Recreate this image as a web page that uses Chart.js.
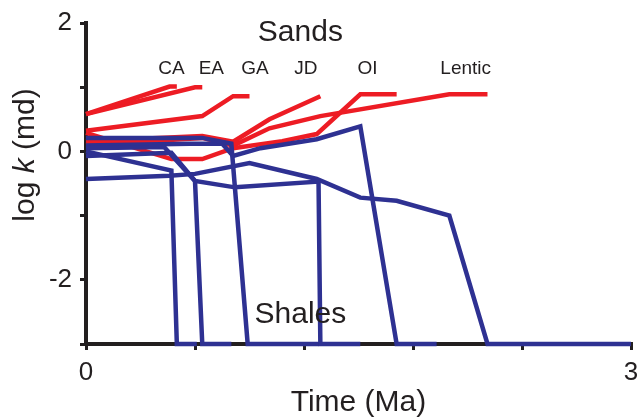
<!DOCTYPE html>
<html>
<head>
<meta charset="utf-8">
<script src="https://cdn.jsdelivr.net/npm/chart.js@4.4.1/dist/chart.umd.min.js"></script>
<style>
    html, body { margin: 0; padding: 0; background: #fff; }
</style>
</head>
<body>
<canvas id="kChart" width="639" height="418"></canvas>
<script>
// Time (Ma) and log k (md) for each sand
const caTime = [0, 0.46, 0.50];
const caLogK = [0.58, 1.01, 1.01];
const eaTime = [0, 0.60, 0.64];
const eaLogK = [0.58, 1.00, 1.00];
const gaTime = [0, 0.64, 0.81, 0.90];
const gaLogK = [0.32, 0.55, 0.86, 0.86];
const jdTime = [0, 0.64, 0.81, 1.01, 1.29];
const jdLogK = [0.16, 0.24, 0.15, 0.50, 0.86];
const oiTime = [0, 0.47, 0.64, 0.81, 1.08, 1.27, 1.51, 1.71];
const oiLogK = [0.29, -0.12, -0.12, 0.05, 0.16, 0.27, 0.89, 0.89];
const lenticTime = [0, 0.64, 0.81, 1.01, 1.29, 2.00, 2.21];
const lenticLogK = [0.10, 0.21, 0.09, 0.36, 0.55, 0.89, 0.89];

// Shales: each one collapses to -3 at some point
const shale1Time = [0, 0.47, 0.50, 0.61];
const shale1LogK = [0.0, -0.30, -3, -3];
const shale2Time = [0, 0.43, 0.60, 0.64, 0.80];
const shale2LogK = [0.05, 0.07, -0.46, -3, -3];
const shale3Time = [0, 0.64, 0.80, 0.89, 1.28];
const shale3LogK = [0.21, 0.21, 0.12, -3, -3];
const shale4Time = [0, 0.47, 0.60, 0.82, 1.28, 1.29, 1.51];
const shale4LogK = [-0.07, -0.02, -0.46, -0.56, -0.47, -3, -3];
const shale5Time = [0, 0.57, 0.75, 0.81, 0.96, 1.27, 1.51, 1.71, 1.93];
const shale5LogK = [0.09, 0.12, 0.12, -0.07, 0.05, 0.19, 0.39, -3, -3];
const shale6Time = [0, 0.46, 0.60, 0.90, 1.27, 1.51, 1.71, 2.00, 2.21, 3.0];
const shale6LogK = [-0.43, -0.38, -0.35, -0.18, -0.43, -0.72, -0.77, -1.0, -3, -3];

const sandNames = ['CA', 'EA', 'GA', 'JD', 'OI', 'Lentic'];

// Axis ticks
const xTicks = [0, 0.6, 1.2, 1.8, 2.4, 3];
const xTickLabels = ['0', '', '', '', '', '3'];
const yTicks = [-3, -2, -1, 0, 1, 2];
const yTickLabels = ['', '-2', '', '0', '', '2'];

const RED = '#ed1c24';
const BLUE = '#2e3192';
const INK = '#231f20';
const FONT = '"Liberation Sans", Arial, Helvetica, sans-serif';

function makeSeries(label, time, logK, color, order) {
    return {
        label: label,
        data: time.map((t, i) => ({ x: t, y: logK[i] })),
        borderColor: color,
        backgroundColor: color,
        borderWidth: 4.5,
        borderJoinStyle: 'miter',
        borderCapStyle: 'butt',
        showLine: true,
        pointRadius: 0,
        tension: 0,
        clip: false,
        order: order
    };
}

const sandSeries = [
    makeSeries('CA', caTime, caLogK, RED, 1),
    makeSeries('EA', eaTime, eaLogK, RED, 1),
    makeSeries('GA', gaTime, gaLogK, RED, 1),
    makeSeries('JD', jdTime, jdLogK, RED, 1),
    makeSeries('OI', oiTime, oiLogK, RED, 1),
    makeSeries('Lentic', lenticTime, lenticLogK, RED, 1)
];
const shaleSeries = [
    makeSeries('shale 1', shale1Time, shale1LogK, BLUE, 0),
    makeSeries('shale 2', shale2Time, shale2LogK, BLUE, 0),
    makeSeries('shale 3', shale3Time, shale3LogK, BLUE, 0),
    makeSeries('shale 4', shale4Time, shale4LogK, BLUE, 0),
    makeSeries('shale 5', shale5Time, shale5LogK, BLUE, 0),
    makeSeries('shale 6', shale6Time, shale6LogK, BLUE, 0)
];

// Text labels inside the plot, placed in data units
const annotations = {
    id: 'annotations',
    afterDatasetsDraw(chart) {
        const { ctx, scales: { x, y } } = chart;
        ctx.save();
        ctx.fillStyle = INK;
        ctx.textAlign = 'center';
        ctx.textBaseline = 'alphabetic';

        ctx.font = '30px ' + FONT;
        ctx.fillText('Sands', x.getPixelForValue(1.18), y.getPixelForValue(1.72));
        ctx.fillText('Shales', x.getPixelForValue(1.18), y.getPixelForValue(-2.67));

        const labelTimes = [0.47, 0.69, 0.93, 1.21, 1.55, 2.09];
        ctx.font = '19px ' + FONT;
        sandNames.forEach((name, i) => {
            ctx.fillText(name, x.getPixelForValue(labelTimes[i]), y.getPixelForValue(1.2));
        });

        // y axis title with italic k
        ctx.translate(34, 155);
        ctx.rotate(-Math.PI / 2);
        ctx.textAlign = 'left';
        const parts = [['log ', '30px ' + FONT], ['k', 'italic 30px ' + FONT], [' (md)', '30px ' + FONT]];
        let total = 0;
        parts.forEach(p => { ctx.font = p[1]; total += ctx.measureText(p[0]).width; });
        let cx = -total / 2;
        parts.forEach(p => {
            ctx.font = p[1];
            ctx.fillText(p[0], cx, 0);
            cx += ctx.measureText(p[0]).width;
        });
        ctx.restore();
    }
};

new Chart(document.getElementById('kChart'), {
    type: 'scatter',
    data: { datasets: shaleSeries.concat(sandSeries) },
    options: {
        responsive: false,
        animation: false,
        devicePixelRatio: 1,
        layout: { padding: { top: 23, right: 8, left: 0, bottom: 0 } },
        plugins: {
            legend: { display: false },
            tooltip: { enabled: false }
        },
        scales: {
            x: {
                type: 'linear',
                min: 0,
                max: 3,
                afterBuildTicks: scale => { scale.ticks = xTicks.map(v => ({ value: v })); },
                afterFit: scale => {
                    scale.height = 74;
                    scale.paddingLeft = 0;
                    scale.paddingRight = 0;
                },
                ticks: {
                    autoSkip: false,
                    maxRotation: 0,
                    padding: 7,
                    color: INK,
                    font: { family: FONT, size: 26 },
                    callback: (value, index) => xTickLabels[index]
                },
                grid: { drawOnChartArea: false, drawTicks: true, tickLength: 6, color: INK, lineWidth: 3 },
                border: { display: true, color: INK, width: 4 },
                title: {
                    display: true,
                    text: 'Time (Ma)',
                    color: INK,
                    font: { family: FONT, size: 30 },
                    padding: { top: 0, bottom: -3 }
                }
            },
            y: {
                type: 'linear',
                min: -3,
                max: 2,
                afterBuildTicks: scale => { scale.ticks = yTicks.map(v => ({ value: v })); },
                afterFit: scale => {
                    scale.width = 86;
                    scale.paddingTop = 0;
                    scale.paddingBottom = 0;
                },
                ticks: {
                    autoSkip: false,
                    padding: 8,
                    color: INK,
                    font: { family: FONT, size: 26 },
                    callback: (value, index) => yTickLabels[index]
                },
                grid: { drawOnChartArea: false, drawTicks: true, tickLength: 6, color: INK, lineWidth: 3 },
                border: { display: true, color: INK, width: 4 }
            }
        }
    },
    plugins: [annotations]
});
</script>
</body>
</html>
